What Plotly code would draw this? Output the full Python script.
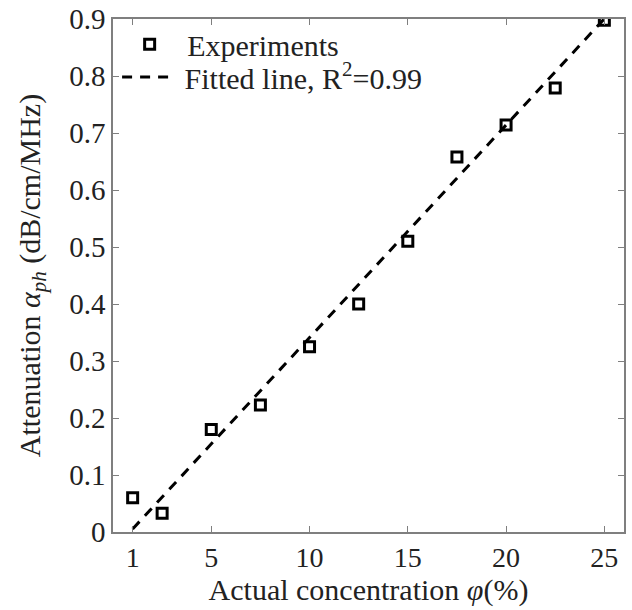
import numpy as np
import plotly.graph_objects as go

# Measured attenuation vs. actual concentration
concentration = [1, 2.5, 5, 7.5, 10, 12.5, 15, 17.5, 20, 22.5, 25]
attenuation = [0.06, 0.033, 0.18, 0.223, 0.325, 0.40, 0.51, 0.658, 0.714, 0.779, 0.898]

# Linear fit coefficients (slope, intercept)
fit_slope = 0.0373
fit_intercept = -0.032

x_ticks = [1, 5, 10, 15, 20, 25]
y_ticks = [0, 0.1, 0.2, 0.3, 0.4, 0.5, 0.6, 0.7, 0.8, 0.9]
y_ticktext = ["0", "0.1", "0.2", "0.3", "0.4", "0.5", "0.6", "0.7", "0.8", "0.9"]

fit_x = np.array([concentration[0], concentration[-1]])
fit_y = fit_slope * fit_x + fit_intercept

FONT = "Liberation Serif, DejaVu Serif, serif"
TXT = "#222222"
NBSP = "\u00a0"

fig = go.Figure()
fig.add_trace(go.Scatter(
    x=concentration, y=attenuation, mode="markers", name=NBSP + "Experiments",
    marker=dict(symbol="square-open", size=10, color="black",
                line=dict(width=3, color="black")),
    legend="legend",
))
fig.add_trace(go.Scatter(
    x=fit_x, y=fit_y, mode="lines", name=NBSP + "Fitted line, R<sup>2</sup>=0.99",
    line=dict(color="black", width=3, dash="10px,8px"),
    legend="legend2",
))

axis_common = dict(
    showline=True, linecolor="#7f7f7f", linewidth=1.5, mirror="ticks",
    ticks="inside", ticklen=6, tickwidth=1, tickcolor="#7f7f7f",
    showgrid=False, zeroline=False, automargin=False,
)

fig.update_xaxes(
    range=[0, 26], tickvals=x_ticks,
    tickfont=dict(family=FONT, size=28, color=TXT),
    title=dict(text="Actual concentration <i>φ</i>(%)",
               font=dict(family=FONT, size=30, color=TXT), standoff=2),
    **axis_common,
)
fig.update_yaxes(
    range=[0, 0.9], tickvals=y_ticks, ticktext=y_ticktext,
    tickfont=dict(family=FONT, size=29, color=TXT),
    title=dict(text="Attenuation <i>α<sub>ph</sub></i> (dB/cm/MHz)",
               font=dict(family=FONT, size=30, color=TXT), standoff=20),
    **axis_common,
)

legend_common = dict(
    xanchor="left", yanchor="middle",
    bgcolor="rgba(0,0,0,0)", borderwidth=0,
    font=dict(family=FONT, size=30, color=TXT),
    itemwidth=50,
)

fig.update_layout(
    width=632, height=610,
    margin=dict(l=113, r=8, t=19, b=78),
    paper_bgcolor="white", plot_bgcolor="white",
    font=dict(family=FONT, size=30, color=TXT),
    showlegend=True,
    legend=dict(x=0.013, y=0.951, **legend_common),
    legend2=dict(x=0.008, y=0.887, **legend_common),
)

fig.write_html("out.html")
